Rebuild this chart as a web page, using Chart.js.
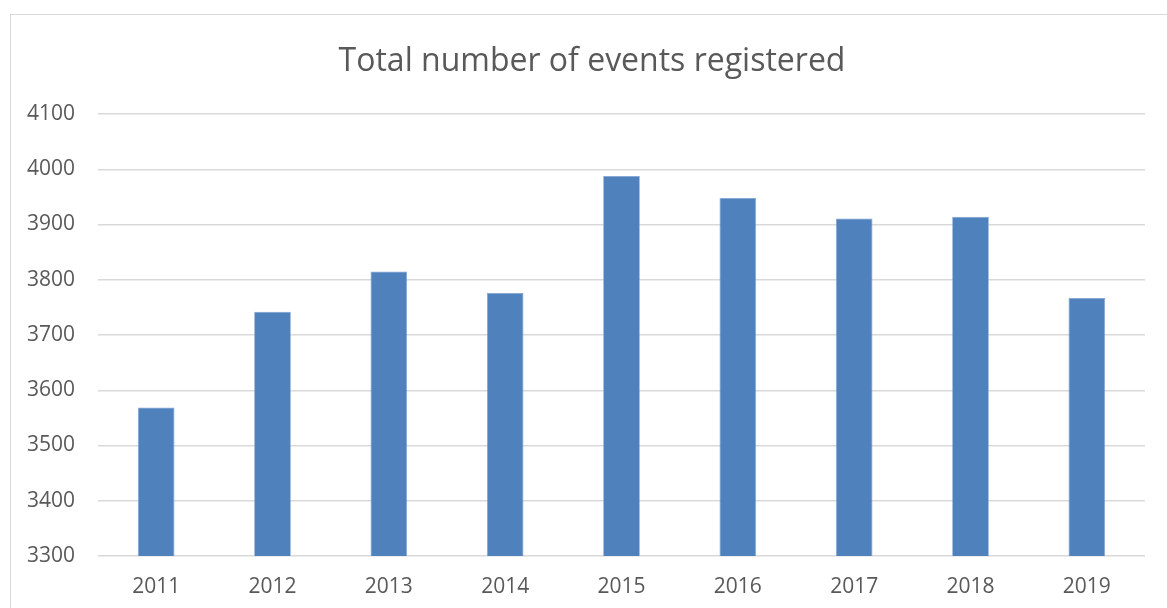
<!DOCTYPE html>
<html>
<head>
<meta charset="utf-8">
<script src="https://cdn.jsdelivr.net/npm/chart.js@4"></script>
<style>
  html, body { margin: 0; padding: 0; background: #ffffff; }
  #wrap { position: relative; width: 1167px; height: 608px; overflow: hidden; }
  #frame { position: absolute; left: 10px; top: 14px; width: 1200px; height: 700px; border: 1.5px solid #d9d9d9; box-sizing: border-box; }
  canvas { position: absolute; left: 0; top: 0; }
</style>
</head>
<body>
<div id="wrap">
  <div id="frame"></div>
  <canvas id="c" width="1167" height="608"></canvas>
</div>
<script>
const categories = ["2011", "2012", "2013", "2014", "2015", "2016", "2017", "2018", "2019"];
const eventsRegistered = [3569, 3742, 3815, 3776, 3988, 3948, 3911, 3914, 3767];
const titleText = "Total number of events registered";
const yMin = 3300;
const yMax = 4100;
const yStep = 100;

const FONT = "'Open Sans', 'Liberation Sans', sans-serif";
const TEXT = "#595959";

// Title centred on the chart frame (frame spans roughly x 10 to 1174)
const frameTitle = {
  id: "frameTitle",
  afterDraw(chart) {
    const ctx = chart.ctx;
    ctx.save();
    ctx.font = "32px " + FONT;
    ctx.fillStyle = TEXT;
    ctx.textAlign = "center";
    ctx.textBaseline = "middle";
    ctx.fillText(titleText, 592, 62);
    ctx.restore();
  }
};

new Chart(document.getElementById("c"), {
  type: "bar",
  data: {
    labels: categories,
    datasets: [{
      label: "Events",
      data: eventsRegistered,
      backgroundColor: "#4f81bd",
      borderColor: "#7fa3d3",
      borderWidth: 0.8,
      barPercentage: 1,
      categoryPercentage: 0.315
    }]
  },
  plugins: [frameTitle],
  options: {
    responsive: false,
    animation: false,
    devicePixelRatio: 1,
    layout: { padding: { left: 0, right: 22, top: 114, bottom: 0 } },
    plugins: {
      legend: { display: false },
      tooltip: { enabled: false },
      title: { display: false }
    },
    scales: {
      x: {
        grid: { display: false, drawTicks: false },
        border: { display: false },
        ticks: { color: TEXT, font: { family: FONT, size: 21 }, padding: 18, maxRotation: 0 },
        afterFit: (s) => { s.height = 52; }
      },
      y: {
        min: yMin,
        max: yMax,
        ticks: {
          stepSize: yStep, color: TEXT, font: { family: FONT, size: 21 }, padding: 23,
          callback: (v) => String(v)
        },
        grid: { color: "#d9d9d9", lineWidth: 1.5, drawTicks: false },
        border: { display: false },
        afterFit: (s) => { s.width = 98; }
      }
    }
  }
});
</script>
</body>
</html>
